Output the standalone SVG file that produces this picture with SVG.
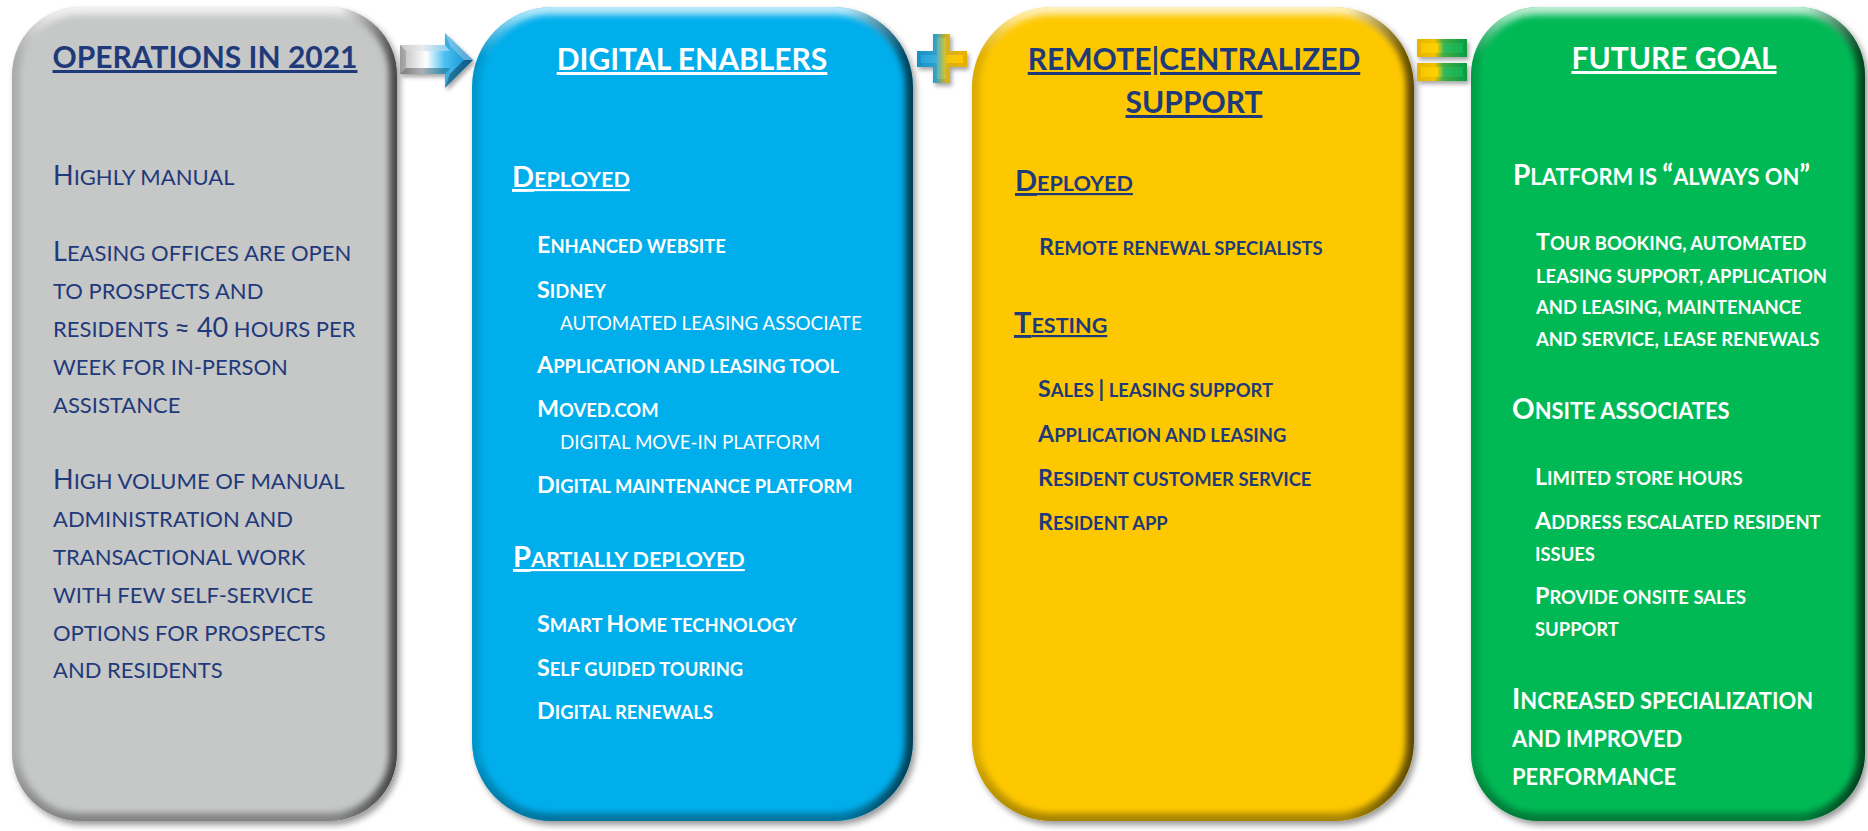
<svg xmlns="http://www.w3.org/2000/svg" width="1868" height="831" viewBox="0 0 1868 831">
<defs>
<style>
.t{font-family:Lato,'Open Sans','Liberation Sans',sans-serif}
.n{fill:#1f3a7a}
.w{fill:#ffffff}
.hd{font-weight:700;font-size:30px;text-decoration:underline;text-anchor:middle}
.g{font-size:22px}
.g .C{font-size:27px}
.sh{font-weight:700;font-size:21.6px;text-decoration:underline}
.sh .C{font-size:29px}
.it{font-weight:700;font-size:18.4px}
.it .C{font-size:23.3px}
.sub{font-size:18.8px}
.gh{font-weight:700;font-size:21.9px}
.gh .C{font-size:28px}
.edgeV{fill:none;stroke:url(#gV);stroke-width:16}
.edgeH{fill:none;stroke:url(#gH);stroke-width:16}
</style>
<filter id="ds" x="-10%" y="-5%" width="125%" height="115%"><feDropShadow dx="3" dy="4" stdDeviation="3" flood-color="#000" flood-opacity="0.4"/></filter>
<filter id="sds" x="-20%" y="-20%" width="150%" height="160%"><feDropShadow dx="2" dy="3" stdDeviation="2" flood-color="#000" flood-opacity="0.35"/></filter>
<filter id="bl" x="-5%" y="-5%" width="110%" height="110%"><feGaussianBlur stdDeviation="3"/></filter>
<linearGradient id="gV" x1="0" y1="0" x2="0" y2="1">
<stop offset="0" stop-color="#fff" stop-opacity="0.75"/>
<stop offset="0.06" stop-color="#fff" stop-opacity="0"/>
<stop offset="0.92" stop-color="#000" stop-opacity="0"/>
<stop offset="1" stop-color="#000" stop-opacity="0.35"/>
</linearGradient>
<linearGradient id="gH" x1="0" y1="0" x2="1" y2="0">
<stop offset="0" stop-color="#000" stop-opacity="0.15"/>
<stop offset="0.1" stop-color="#000" stop-opacity="0"/>
<stop offset="0.85" stop-color="#000" stop-opacity="0"/>
<stop offset="1" stop-color="#000" stop-opacity="0.65"/>
</linearGradient>
<linearGradient id="arrG" gradientUnits="userSpaceOnUse" x1="400" y1="0" x2="473" y2="0">
<stop offset="0" stop-color="#9a9a9a"/>
<stop offset="0.3" stop-color="#d8dde0"/>
<stop offset="0.6" stop-color="#3fb2e6"/>
<stop offset="1" stop-color="#0b7fbf"/>
</linearGradient>
<linearGradient id="arrI" gradientUnits="userSpaceOnUse" x1="405" y1="0" x2="466" y2="0">
<stop offset="0" stop-color="#c8c8c8"/>
<stop offset="0.35" stop-color="#ffffff"/>
<stop offset="0.65" stop-color="#4cc0f0"/>
<stop offset="1" stop-color="#1596d6"/>
</linearGradient>
<linearGradient id="plG" gradientUnits="userSpaceOnUse" x1="917" y1="0" x2="967" y2="0">
<stop offset="0" stop-color="#1b8fc2"/>
<stop offset="0.35" stop-color="#2a9fd0"/>
<stop offset="0.6" stop-color="#d7b21a"/>
<stop offset="1" stop-color="#e8b000"/>
</linearGradient>
<linearGradient id="plI" gradientUnits="userSpaceOnUse" x1="921" y1="0" x2="963" y2="0">
<stop offset="0" stop-color="#27a3d8"/>
<stop offset="0.35" stop-color="#3ab0df"/>
<stop offset="0.62" stop-color="#f2c40e"/>
<stop offset="1" stop-color="#ffc800"/>
</linearGradient>
<linearGradient id="eqG" gradientUnits="userSpaceOnUse" x1="1417" y1="0" x2="1467" y2="0">
<stop offset="0" stop-color="#e6b400"/>
<stop offset="0.35" stop-color="#f3c000"/>
<stop offset="0.52" stop-color="#3fae45"/>
<stop offset="1" stop-color="#0a9a42"/>
</linearGradient>
<linearGradient id="eqI" gradientUnits="userSpaceOnUse" x1="1421" y1="0" x2="1463" y2="0">
<stop offset="0" stop-color="#f7c600"/>
<stop offset="0.38" stop-color="#ffd000"/>
<stop offset="0.55" stop-color="#33b85a"/>
<stop offset="1" stop-color="#0fb354"/>
</linearGradient>
<clipPath id="cG"><rect x="12" y="7" width="385" height="814" rx="68"/></clipPath>
<clipPath id="cB"><rect x="472" y="7" width="441" height="814" rx="80"/></clipPath>
<clipPath id="cY"><rect x="972" y="7" width="442" height="814" rx="80"/></clipPath>
<clipPath id="cN"><rect x="1471" y="7" width="394" height="814" rx="68"/></clipPath>
</defs>
<rect width="1868" height="831" fill="#ffffff"/>

<g id="node-operations" class="t">
<rect x="12" y="7" width="385" height="814" rx="68" fill="#c6c7c7" filter="url(#ds)"/>
<g clip-path="url(#cG)">
<rect class="edgeV" x="12" y="7" width="385" height="814" rx="68" filter="url(#bl)"/>
<rect class="edgeH" x="12" y="7" width="385" height="814" rx="68" filter="url(#bl)"/>
</g>
<text class="hd n" x="205" y="68">OPERATIONS IN 2021</text>
<text class="g n" x="53" y="185"><tspan class="C">H</tspan>IGHLY MANUAL</text>
<text class="g n" x="53" y="261"><tspan class="C">L</tspan>EASING OFFICES ARE OPEN</text>
<text class="g n" x="53" y="299">TO PROSPECTS AND</text>
<text class="g n" x="53" y="337">RESIDENTS <tspan class="C">≈ 40</tspan> HOURS PER</text>
<text class="g n" x="53" y="375">WEEK FOR IN-PERSON</text>
<text class="g n" x="53" y="413">ASSISTANCE</text>
<text class="g n" x="53" y="489"><tspan class="C">H</tspan>IGH VOLUME OF MANUAL</text>
<text class="g n" x="53" y="527">ADMINISTRATION AND</text>
<text class="g n" x="53" y="565">TRANSACTIONAL WORK</text>
<text class="g n" x="53" y="603">WITH FEW SELF-SERVICE</text>
<text class="g n" x="53" y="641">OPTIONS FOR PROSPECTS</text>
<text class="g n" x="53" y="678">AND RESIDENTS</text>
</g>

<g id="node-digital-enablers" class="t">
<rect x="472" y="7" width="441" height="814" rx="80" fill="#06aeec" filter="url(#ds)"/>
<g clip-path="url(#cB)">
<rect class="edgeV" x="472" y="7" width="441" height="814" rx="80" filter="url(#bl)"/>
<rect class="edgeH" x="472" y="7" width="441" height="814" rx="80" filter="url(#bl)"/>
</g>
<text class="hd w" x="692" y="70">DIGITAL ENABLERS</text>
<text class="sh w" x="512" y="187"><tspan class="C">D</tspan>EPLOYED</text>
<text class="it w" x="537" y="253"><tspan class="C">E</tspan>NHANCED WEBSITE</text>
<text class="it w" x="537" y="298"><tspan class="C">S</tspan>IDNEY</text>
<text class="sub w" x="560" y="330">AUTOMATED LEASING ASSOCIATE</text>
<text class="it w" x="537" y="373"><tspan class="C">A</tspan>PPLICATION AND LEASING TOOL</text>
<text class="it w" x="537" y="417"><tspan class="C">M</tspan>OVED.COM</text>
<text class="sub w" x="560" y="449">DIGITAL MOVE-IN PLATFORM</text>
<text class="it w" x="537" y="493"><tspan class="C">D</tspan>IGITAL MAINTENANCE PLATFORM</text>
<text class="sh w" x="513" y="567"><tspan class="C">P</tspan>ARTIALLY DEPLOYED</text>
<text class="it w" x="537" y="632"><tspan class="C">S</tspan>MART <tspan class="C">H</tspan>OME TECHNOLOGY</text>
<text class="it w" x="537" y="676"><tspan class="C">S</tspan>ELF GUIDED TOURING</text>
<text class="it w" x="537" y="719"><tspan class="C">D</tspan>IGITAL RENEWALS</text>
</g>

<g id="node-remote-support" class="t">
<rect x="972" y="7" width="442" height="814" rx="80" fill="#fec805" filter="url(#ds)"/>
<g clip-path="url(#cY)">
<rect class="edgeV" x="972" y="7" width="442" height="814" rx="80" filter="url(#bl)"/>
<rect class="edgeH" x="972" y="7" width="442" height="814" rx="80" filter="url(#bl)"/>
</g>
<text class="hd n" x="1194" y="70">REMOTE|CENTRALIZED</text>
<text class="hd n" x="1194" y="113">SUPPORT</text>
<text class="sh n" x="1015" y="191"><tspan class="C">D</tspan>EPLOYED</text>
<text class="it n" x="1039" y="255"><tspan class="C">R</tspan>EMOTE RENEWAL SPECIALISTS</text>
<text class="sh n" x="1014" y="333"><tspan class="C">T</tspan>ESTING</text>
<text class="it n" x="1038" y="397"><tspan class="C">S</tspan>ALES <tspan class="C">|</tspan> LEASING SUPPORT</text>
<text class="it n" x="1038" y="442"><tspan class="C">A</tspan>PPLICATION AND LEASING</text>
<text class="it n" x="1038" y="486"><tspan class="C">R</tspan>ESIDENT CUSTOMER SERVICE</text>
<text class="it n" x="1038" y="530"><tspan class="C">R</tspan>ESIDENT APP</text>
</g>

<g id="node-future-goal" class="t">
<rect x="1471" y="7" width="394" height="814" rx="68" fill="#06b954" filter="url(#ds)"/>
<g clip-path="url(#cN)">
<rect class="edgeV" x="1471" y="7" width="394" height="814" rx="68" filter="url(#bl)"/>
<rect class="edgeH" x="1471" y="7" width="394" height="814" rx="68" filter="url(#bl)"/>
</g>
<text class="hd w" x="1674" y="69">FUTURE GOAL</text>
<text class="gh w" x="1513" y="185"><tspan class="C">P</tspan>LATFORM IS <tspan class="C">“</tspan>ALWAYS ON<tspan class="C">”</tspan></text>
<text class="it w" x="1536" y="250"><tspan class="C">T</tspan>OUR BOOKING, AUTOMATED</text>
<text class="it w" x="1536" y="283">LEASING SUPPORT, APPLICATION</text>
<text class="it w" x="1536" y="314">AND LEASING, MAINTENANCE</text>
<text class="it w" x="1536" y="346">AND SERVICE, LEASE RENEWALS</text>
<text class="gh w" x="1512" y="419"><tspan class="C">O</tspan>NSITE ASSOCIATES</text>
<text class="it w" x="1535" y="485"><tspan class="C">L</tspan>IMITED STORE HOURS</text>
<text class="it w" x="1535" y="529"><tspan class="C">A</tspan>DDRESS ESCALATED RESIDENT</text>
<text class="it w" x="1535" y="561">ISSUES</text>
<text class="it w" x="1535" y="604"><tspan class="C">P</tspan>ROVIDE ONSITE SALES</text>
<text class="it w" x="1535" y="636">SUPPORT</text>
<text class="gh w" x="1512" y="709"><tspan class="C">I</tspan>NCREASED SPECIALIZATION</text>
<text class="gh w" x="1512" y="747">AND IMPROVED</text>
<text class="gh w" x="1512" y="785">PERFORMANCE</text>
</g>

<g id="connectors">
<g id="arrow" filter="url(#sds)">
<polygon points="400,45 445,45 445,33 473,60 445,88 445,74 400,74" fill="url(#arrG)"/>
<polygon points="406,51 450,51 450,46 464,60 450,74 450,68 406,68" fill="url(#arrI)"/>
<polygon points="400,45 445,45 450,51 406,51" fill="#ffffff" fill-opacity="0.45"/>
<polygon points="445,33 473,60 464,60 450,46" fill="#ffffff" fill-opacity="0.3"/>
<polygon points="400,74 445,74 450,68 406,68" fill="#000000" fill-opacity="0.2"/>
<polygon points="445,88 473,60 464,60 450,74" fill="#000000" fill-opacity="0.3"/>
</g>
<g id="plus" filter="url(#sds)">
<polygon points="933,34 950,34 950,51 967,51 967,67 950,67 950,83 933,83 933,67 917,67 917,51 933,51" fill="url(#plG)"/>
<polygon points="937,38 946,38 946,55 963,55 963,63 946,63 946,79 937,79 937,63 921,63 921,55 937,55" fill="url(#plI)"/>
</g>
<g id="equals" filter="url(#sds)">
<rect x="1417" y="39" width="50" height="18" fill="url(#eqG)"/>
<rect x="1421" y="43" width="42" height="10" fill="url(#eqI)"/>
<rect x="1417" y="63" width="50" height="18" fill="url(#eqG)"/>
<rect x="1421" y="67" width="42" height="10" fill="url(#eqI)"/>
</g>
</g>
</svg>
